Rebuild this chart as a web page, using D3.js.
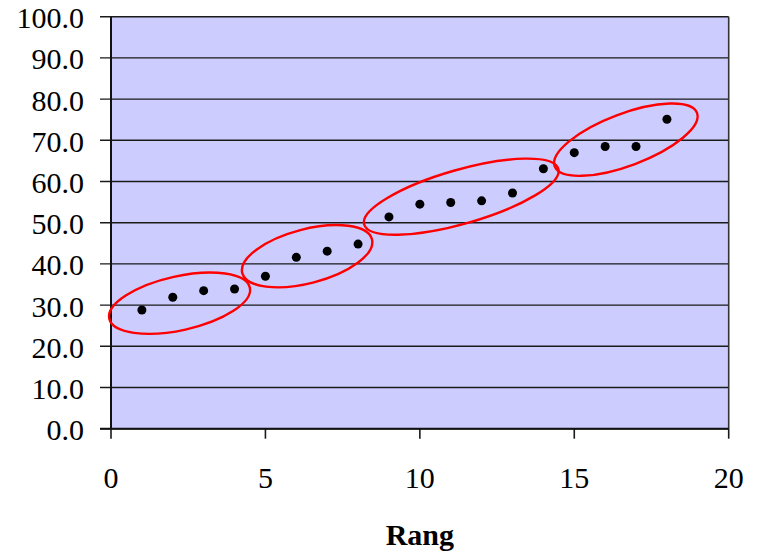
<!DOCTYPE html>
<html>
<head>
<meta charset="utf-8">
<script src="https://cdn.jsdelivr.net/npm/d3@7"></script>
<style>
  body { margin: 0; background: #fff; }
  svg { display: block; }
  text { font-family: "Liberation Serif", "Times New Roman", serif; fill: #000; }
</style>
</head>
<body>
<svg></svg>
<script>
// rank (x) and value (y)
var rang = [1, 2, 3, 4, 5, 6, 7, 8, 9, 10, 11, 12, 13, 14, 15, 16, 17, 18];
var werte = [28.8, 31.9, 33.5, 33.9, 37.0, 41.6, 43.1, 44.8, 51.4, 54.5, 54.9, 55.3, 57.2, 63.1, 67.0, 68.5, 68.5, 75.1];

var xTicks = [0, 5, 10, 15, 20];
var yTicks = [0, 10, 20, 30, 40, 50, 60, 70, 80, 90, 100];
var xTitle = "Rang";

// group ellipses: centre in data units
var ellipseCx = [2.22, 6.35, 11.34, 16.67];
var ellipseCy = [30.46, 41.87, 56.31, 70.15];
var ellipseRx = [72, 67, 101, 76];
var ellipseRy = [27, 27, 27, 26];
var ellipseAngle = [-12.5, -14.6, -16, -20.6];

var width = 761, height = 554;
var margin = {top: 16.7, right: 32.3, bottom: 125.3, left: 111};

var svg = d3.select("svg").attr("width", width).attr("height", height);

var x = d3.scaleLinear()
    .domain([0, 20])
    .range([margin.left, width - margin.right]);

var y = d3.scaleLinear()
    .domain([0, 100])
    .range([height - margin.bottom, margin.top]);

// plot background
svg.append("rect")
    .attr("x", x(0))
    .attr("y", y(100))
    .attr("width", x(20) - x(0))
    .attr("height", y(0) - y(100))
    .attr("fill", "#ccccff");

// horizontal grid + y ticks
svg.selectAll(".grid")
  .data(yTicks)
  .enter()
  .append("line")
  .classed("grid", true)
  .attr("x1", x(0) - 11)
  .attr("x2", x(20))
  .attr("y1", function (d) {return y(d);})
  .attr("y2", function (d) {return y(d);})
  .attr("stroke", "#1a1a1a")
  .attr("stroke-width", 1.4);

// right border
svg.append("line")
    .attr("x1", x(20)).attr("x2", x(20))
    .attr("y1", y(100)).attr("y2", y(0))
    .attr("stroke", "#333")
    .attr("stroke-width", 1.6);

// x ticks
svg.selectAll(".xtick")
  .data(xTicks)
  .enter()
  .append("line")
  .classed("xtick", true)
  .attr("x1", function (d) {return x(d);})
  .attr("x2", function (d) {return x(d);})
  .attr("y1", y(0))
  .attr("y2", y(0) + 10)
  .attr("stroke", "#1a1a1a")
  .attr("stroke-width", 1.6);

// axis lines
svg.append("line")
    .attr("x1", x(0)).attr("x2", x(0))
    .attr("y1", y(100)).attr("y2", y(0))
    .attr("stroke", "#111")
    .attr("stroke-width", 2);

svg.append("line")
    .attr("x1", x(0) - 11).attr("x2", x(20))
    .attr("y1", y(0)).attr("y2", y(0))
    .attr("stroke", "#111")
    .attr("stroke-width", 2);

// tick labels
svg.selectAll(".ylabel")
  .data(yTicks)
  .enter()
  .append("text")
  .classed("ylabel", true)
  .attr("x", x(0) - 27)
  .attr("y", function (d) {return y(d) + 11.5;})
  .attr("text-anchor", "end")
  .style("font-size", "30px")
  .text(function (d) {return d3.format(".1f")(d);});

svg.selectAll(".xlabel")
  .data(xTicks)
  .enter()
  .append("text")
  .classed("xlabel", true)
  .attr("x", function (d) {return x(d);})
  .attr("y", y(0) + 59)
  .attr("text-anchor", "middle")
  .style("font-size", "30px")
  .text(function (d) {return d;});

svg.append("text")
    .attr("x", x(10))
    .attr("y", y(0) + 116)
    .attr("text-anchor", "middle")
    .style("font-size", "30px")
    .style("font-weight", "bold")
    .text(xTitle);

// points
svg.selectAll(".node")
  .data(rang)
  .enter()
  .append("circle")
  .classed("node", true)
  .attr("r", 4.5)
  .attr("cx", function (d) {return x(d);})
  .attr("cy", function (d, i) {return y(werte[i]);})
  .attr("fill", "#000");

// red group ellipses
svg.selectAll(".group")
  .data(ellipseCx)
  .enter()
  .append("ellipse")
  .classed("group", true)
  .attr("transform", function (d, i) {
    return "translate(" + x(d) + "," + y(ellipseCy[i]) + ") rotate(" + ellipseAngle[i] + ")";
  })
  .attr("rx", function (d, i) {return ellipseRx[i];})
  .attr("ry", function (d, i) {return ellipseRy[i];})
  .attr("fill", "none")
  .attr("stroke", "#ff0000")
  .attr("stroke-width", 2.4);
</script>
</body>
</html>
